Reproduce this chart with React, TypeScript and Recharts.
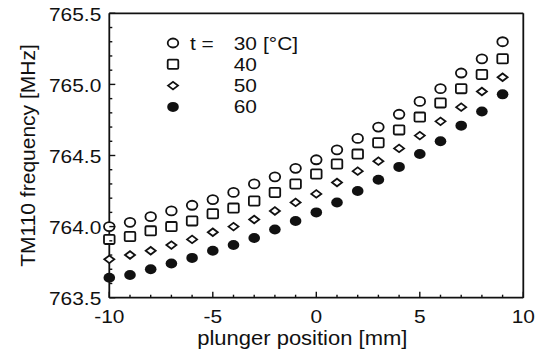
import { ScatterChart, Scatter, XAxis, YAxis, Legend } from 'recharts';

const INK = '#111';
const FONT = '"Liberation Sans", Arial, Helvetica, sans-serif';

// plunger positions [mm]
const X_POSITIONS = [-10, -9, -8, -7, -6, -5, -4, -3, -2, -1, 0, 1, 2, 3, 4, 5, 6, 7, 8, 9];

// TM110 frequency [MHz] for each temperature
const FREQ_30 = [764.0, 764.03, 764.07, 764.11, 764.15, 764.19, 764.24, 764.3, 764.35, 764.41, 764.47, 764.54, 764.62, 764.7, 764.79, 764.88, 764.97, 765.08, 765.18, 765.3];
const FREQ_40 = [763.91, 763.93, 763.97, 764.0, 764.04, 764.09, 764.13, 764.18, 764.24, 764.3, 764.37, 764.44, 764.51, 764.59, 764.68, 764.77, 764.87, 764.97, 765.07, 765.18];
const FREQ_50 = [763.77, 763.8, 763.83, 763.87, 763.91, 763.96, 764.0, 764.05, 764.11, 764.17, 764.23, 764.31, 764.39, 764.46, 764.55, 764.64, 764.74, 764.84, 764.95, 765.05];
const FREQ_60 = [763.64, 763.66, 763.7, 763.74, 763.78, 763.83, 763.87, 763.92, 763.98, 764.04, 764.1, 764.17, 764.25, 764.33, 764.42, 764.51, 764.6, 764.71, 764.81, 764.93];

const SERIES_NAMES = ['30', '40', '50', '60'];
const SERIES_KINDS = ['circle', 'square', 'diamond', 'dot'];

const X_TICKS = [-10, -9, -8, -7, -6, -5, -4, -3, -2, -1, 0, 1, 2, 3, 4, 5, 6, 7, 8, 9, 10];
const Y_TICKS = [763.5, 763.6, 763.7, 763.8, 763.9, 764.0, 764.1, 764.2, 764.3, 764.4, 764.5, 764.6, 764.7, 764.8, 764.9, 765.0, 765.1, 765.2, 765.3, 765.4, 765.5];

const toPoints = (ys: number[]) => X_POSITIONS.map((x, i) => ({ x, y: ys[i] }));
const SERIES = [FREQ_30, FREQ_40, FREQ_50, FREQ_60].map(toPoints);

const isMajorX = (v: number) => v % 5 === 0;
const isMajorY = (v: number) => Math.abs(v * 2 - Math.round(v * 2)) < 1e-6;

function StretchText({ x, y, anchor, size, children }: any) {
  return (
    <text
      transform={`translate(${x} ${y}) scale(1.1 1)`}
      textAnchor={anchor}
      fontSize={size}
      fontFamily={FONT}
      fill={INK}
    >
      {children}
    </text>
  );
}

function Marker({ kind, cx, cy }: { kind: string; cx: number; cy: number }) {
  const sw = 1.8;
  if (kind === 'circle') return <ellipse cx={cx} cy={cy} rx={5.3} ry={4.5} fill="#fff" stroke={INK} strokeWidth={sw} />;
  if (kind === 'square') return <rect x={cx - 5.3} y={cy - 4.6} width={10.6} height={9.2} rx={1.2} fill="#fff" stroke={INK} strokeWidth={sw} />;
  if (kind === 'diamond')
    return <polygon points={`${cx - 5},${cy} ${cx},${cy - 3.8} ${cx + 5},${cy} ${cx},${cy + 3.8}`} fill="#fff" stroke={INK} strokeWidth={sw} />;
  return <ellipse cx={cx} cy={cy} rx={5.8} ry={5} fill={INK} />;
}

function BottomTick({ x, y, payload }: any) {
  const major = isMajorX(payload.value);
  return (
    <g>
      <line x1={x} y1={y} x2={x} y2={y - (major ? 6 : 3)} stroke={INK} strokeWidth={1.4} />
      {major && <StretchText x={x} y={y + 25.6} anchor="middle" size={19}>{payload.value}</StretchText>}
    </g>
  );
}

function TopTick({ x, y, payload }: any) {
  const major = isMajorX(payload.value);
  return <line x1={x} y1={y} x2={x} y2={y + (major ? 6 : 3)} stroke={INK} strokeWidth={1.4} />;
}

function LeftTick({ x, y, payload }: any) {
  const major = isMajorY(payload.value);
  return (
    <g>
      <line x1={x} y1={y} x2={x + (major ? 6 : 3)} y2={y} stroke={INK} strokeWidth={1.4} />
      {major && <StretchText x={x - 8} y={y + 7.5} anchor="end" size={19}>{payload.value.toFixed(1)}</StretchText>}
    </g>
  );
}

function RightTick({ x, y, payload }: any) {
  const major = isMajorY(payload.value);
  return <line x1={x} y1={y} x2={x - (major ? 6 : 3)} y2={y} stroke={INK} strokeWidth={1.4} />;
}

function XTitle({ viewBox }: any) {
  return (
    <StretchText x={viewBox.x + viewBox.width / 2 - 14} y={viewBox.y + 47} anchor="middle" size={20}>
      plunger position [mm]
    </StretchText>
  );
}

function YTitle({ viewBox }: any) {
  return (
    <text
      transform={`translate(${viewBox.x + viewBox.width - 74} ${viewBox.y + viewBox.height / 2}) rotate(-90)`}
      textAnchor="middle"
      fontSize={21}
      fontFamily={FONT}
      fill={INK}
    >
      TM110 frequency [MHz]
    </text>
  );
}

function LegendBox({ payload }: any) {
  const rows = (payload || []).filter((p: any) => SERIES_NAMES.includes(p.value));
  return (
    <svg width={150} height={92} style={{ display: 'block', overflow: 'visible' }}>
      {rows.map((p: any, i: number) => {
        const idx = SERIES_NAMES.indexOf(p.value);
        const cy = 13 + i * 21.3;
        return (
          <g key={p.value}>
            <Marker kind={SERIES_KINDS[idx]} cx={13} cy={cy} />
            {i === 0 && <StretchText x={30} y={cy + 6.5} anchor="start" size={19}>t =</StretchText>}
            <StretchText x={97} y={cy + 6.5} anchor="end" size={19}>{p.value}</StretchText>
            {i === 0 && <StretchText x={103} y={cy + 6.5} anchor="start" size={19}>[°C]</StretchText>}
          </g>
        );
      })}
    </svg>
  );
}

export default function App() {
  return (
    <div style={{ position: 'absolute', left: 0, top: 0, width: 542, height: 352, background: '#fff' }}>
      <ScatterChart width={542} height={352} margin={{ top: 12.3, right: 17.7, bottom: 53.3, left: 108.3 }}>
        <XAxis
          type="number"
          dataKey="x"
          domain={[-10, 10]}
          ticks={X_TICKS}
          interval={0}
          height={1}
          tickSize={0}
          tickMargin={0}
          tickLine={false}
          tick={<BottomTick />}
          axisLine={{ stroke: INK, strokeWidth: 1.8 }}
          label={{ content: <XTitle /> }}
        />
        <XAxis
          xAxisId="top"
          orientation="top"
          type="number"
          domain={[-10, 10]}
          ticks={X_TICKS}
          interval={0}
          height={1}
          tickSize={0}
          tickMargin={0}
          tickLine={false}
          tick={<TopTick />}
          axisLine={{ stroke: INK, strokeWidth: 1.8 }}
        />
        <YAxis
          type="number"
          dataKey="y"
          domain={[763.5, 765.5]}
          ticks={Y_TICKS}
          interval={0}
          width={1}
          tickSize={0}
          tickMargin={0}
          tickLine={false}
          tick={<LeftTick />}
          axisLine={{ stroke: INK, strokeWidth: 1.8 }}
          label={{ content: <YTitle /> }}
        />
        <YAxis
          yAxisId="right"
          orientation="right"
          type="number"
          domain={[763.5, 765.5]}
          ticks={Y_TICKS}
          interval={0}
          width={1}
          tickSize={0}
          tickMargin={0}
          tickLine={false}
          tick={<RightTick />}
          axisLine={{ stroke: INK, strokeWidth: 1.8 }}
        />
        <Legend
          layout="horizontal"
          verticalAlign="middle"
          align="center"
          content={<LegendBox />}
          wrapperStyle={{ position: 'absolute', left: 160, top: 30, width: 150, height: 92 }}
        />
        {SERIES.map((data, i) => (
          <Scatter
            key={SERIES_NAMES[i]}
            name={SERIES_NAMES[i]}
            data={data}
            isAnimationActive={false}
            shape={(p: any) => <Marker kind={SERIES_KINDS[i]} cx={p.cx} cy={p.cy} />}
          />
        ))}
      </ScatterChart>
    </div>
  );
}
